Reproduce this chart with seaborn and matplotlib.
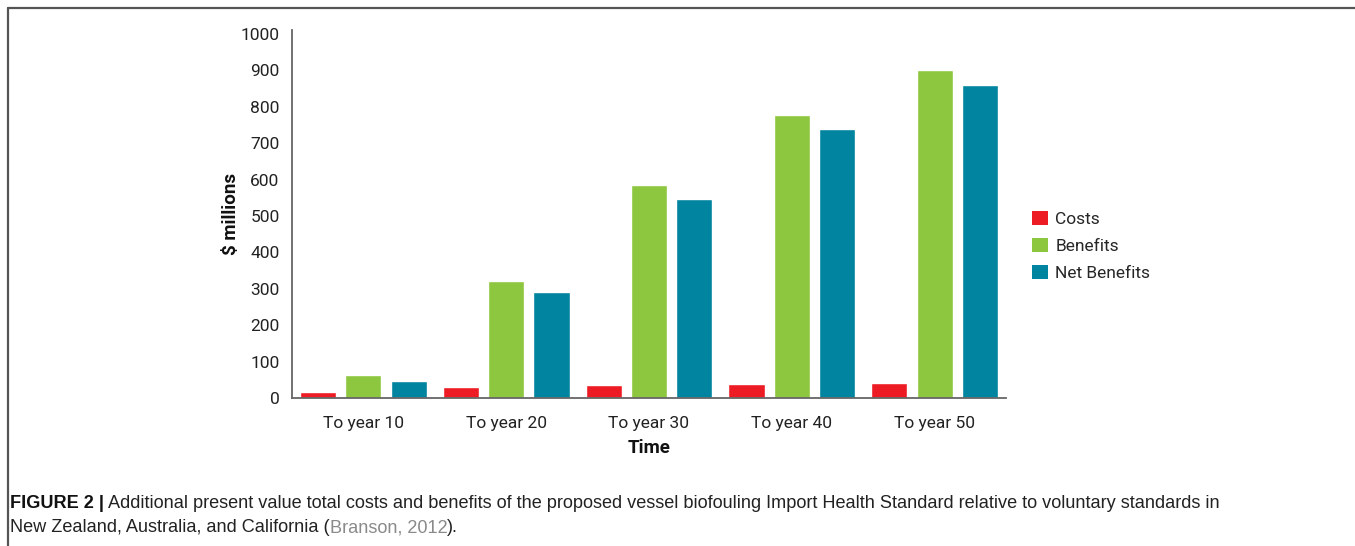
import numpy as np
import pandas as pd
import matplotlib.pyplot as plt
from matplotlib.lines import Line2D
from matplotlib.patches import Patch
import seaborn as sns

sns.set_theme(style='white')
plt.rcParams['font.family'] = ['Roboto', 'DejaVu Sans']

# data ($ millions)
periods = ['To year 10', 'To year 20', 'To year 30', 'To year 40', 'To year 50']
costs = [16, 29, 35, 38, 40]
benefits = [63, 321, 584, 777, 900]
net_benefits = [46, 291, 548, 739, 861]
series = ['Costs', 'Benefits', 'Net Benefits']
colors = ['#ED1C24', '#8DC63F', '#00849F']

df = pd.DataFrame({
    'period': periods * 3,
    'series': np.repeat(series, len(periods)),
    'value': costs + benefits + net_benefits,
})

fig = plt.figure(figsize=(13.55, 5.46), dpi=100)
ax = fig.add_axes([292 / 1355, 148 / 546, 714 / 1355, 0.6747])

sns.barplot(data=df, x='period', y='value', hue='series', palette=colors,
            saturation=1, width=0.95, gap=0.2, ax=ax, legend=False)

ax.set_xlim(-0.5, 4.5)
ax.set_ylim(0, 1012)
ax.set_yticks(range(0, 1001, 100))
ax.tick_params(axis='both', length=0, labelsize=12.5, colors='#222222')
ax.tick_params(axis='y', pad=9)
ax.tick_params(axis='x', pad=13)
for s in ['top', 'right']:
    ax.spines[s].set_visible(False)
for s in ['left', 'bottom']:
    ax.spines[s].set_color('#666666')
    ax.spines[s].set_linewidth(1.3)

ax.set_xlabel('Time', fontsize=13.5, fontweight='bold', color='#111111')
ax.set_ylabel('$ millions', fontsize=13.5, fontweight='bold', color='#111111')
ax.yaxis.set_label_coords(-0.073, 0.5)
ax.xaxis.set_label_coords(0.5, -0.112)

handles = [Patch(facecolor=c, edgecolor='none') for c in colors]
fig.legend(handles, series, loc='upper left', bbox_to_anchor=(1025 / 1355, 1 - 204 / 546),
           frameon=False, fontsize=12.5, handlelength=0.9, handleheight=0.9,
           handletextpad=0.45, labelspacing=0.62, borderaxespad=0)

# frame lines of the figure panel
fig.add_artist(Line2D([8 / 1355, 1], [1 - 8 / 546, 1 - 8 / 546], color='#555555', lw=1.6))
fig.add_artist(Line2D([8 / 1355, 8 / 1355], [0, 1 - 8 / 546], color='#555555', lw=1.6))

# caption with mixed styles
cap_font = ['Liberation Sans', 'DejaVu Sans']
fs = 13.1
renderer = fig.canvas.get_renderer()
x0 = 10 / 1355
y1 = 1 - 504 / 546
y2 = 1 - 528 / 546

def put(x, y, s, **kw):
    t = fig.text(x, y, s, fontsize=fs, family=cap_font, va='center', ha='left', **kw)
    bb = t.get_window_extent(renderer)
    return x + bb.width / fig.bbox.width

x = put(x0, y1, 'FIGURE 2 |', fontweight='bold', color='#111111')
put(x, y1, ' Additional present value total costs and benefits of the proposed vessel biofouling '
    'Import Health Standard relative to voluntary standards in', color='#222222')
x = put(x0, y2, 'New Zealand, Australia, and California (', color='#222222')
x = put(x, y2, 'Branson, 2012', color='#8a8a8a')
put(x, y2, ').', color='#222222')

fig.savefig('out.png', dpi=100, facecolor='white')
